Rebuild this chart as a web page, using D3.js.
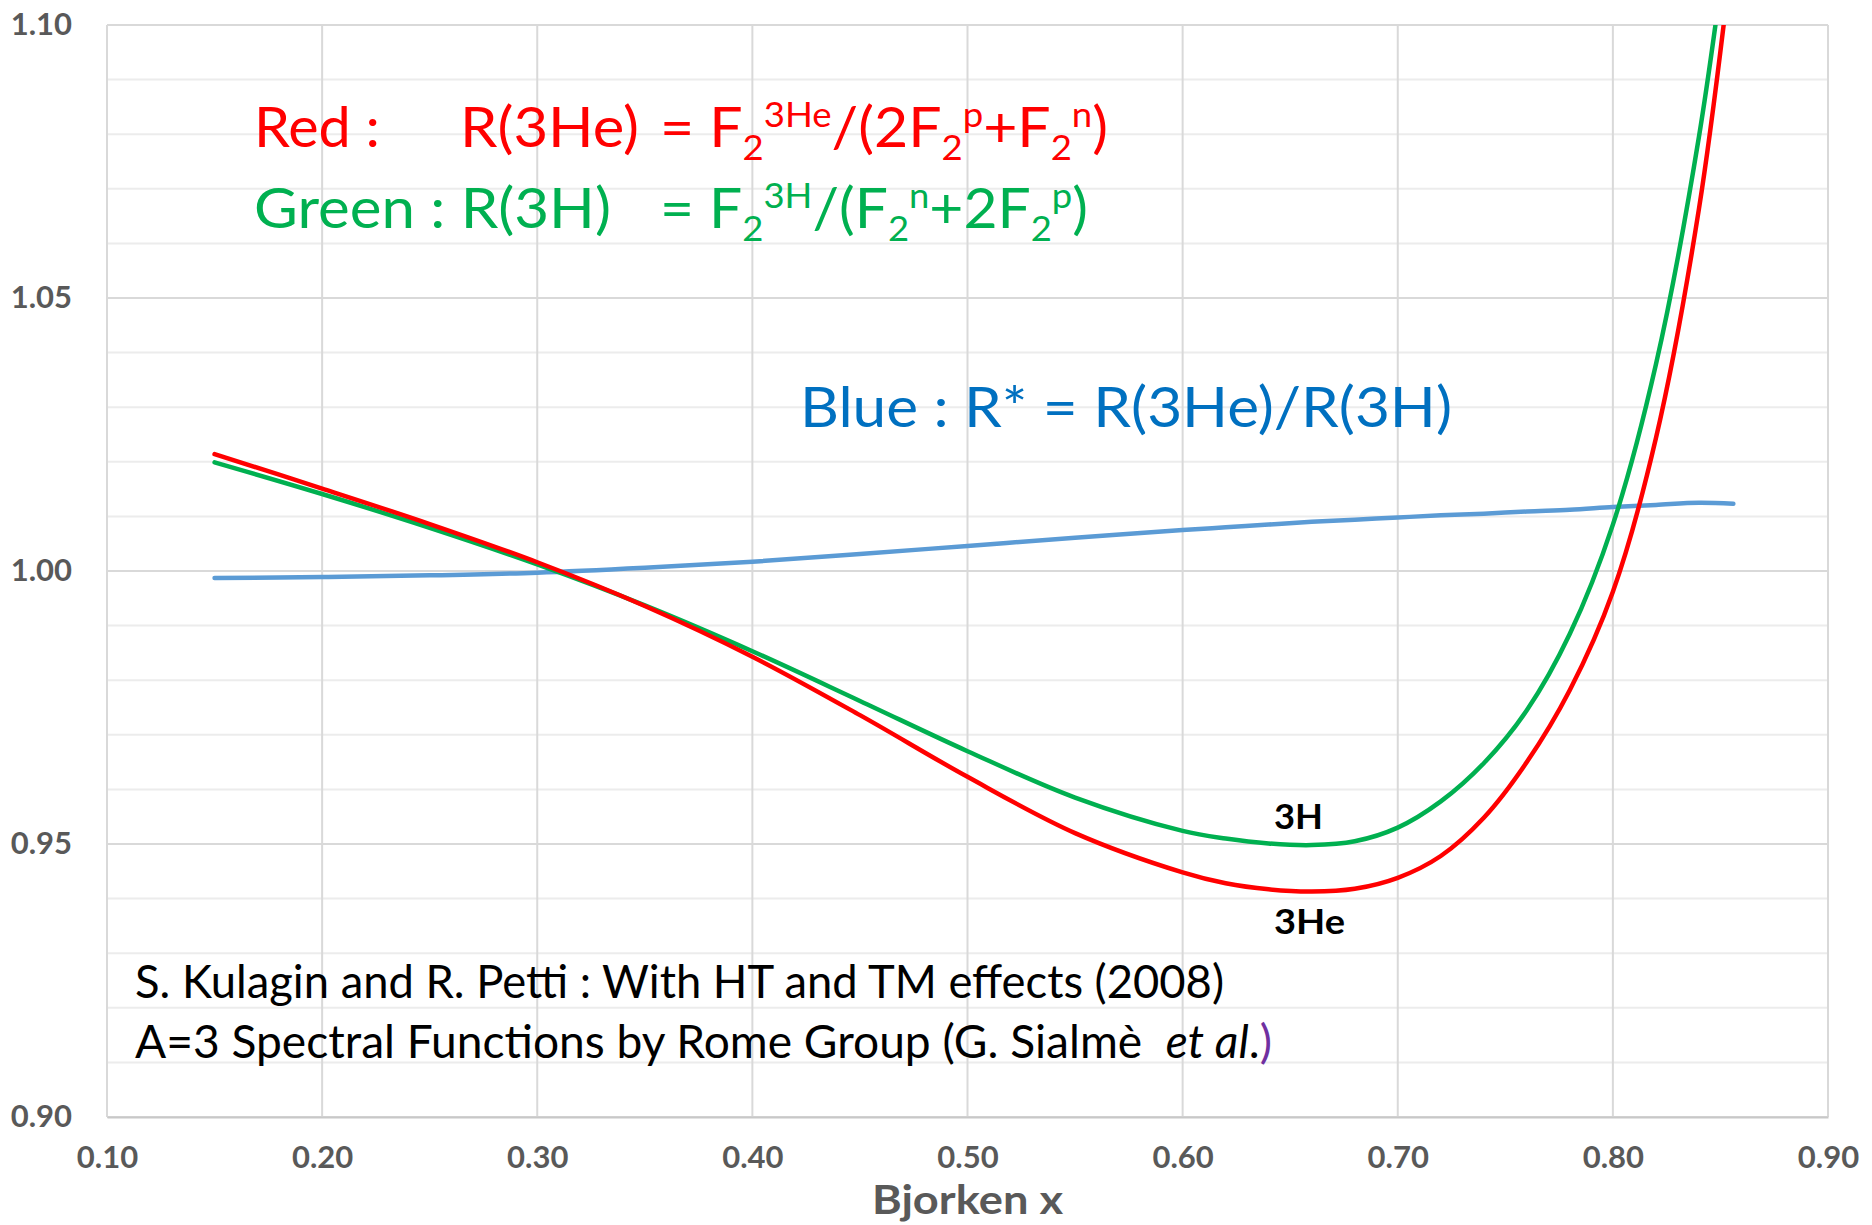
<!DOCTYPE html>
<html>
<head>
<meta charset="utf-8">
<script src="https://cdn.jsdelivr.net/npm/d3@7"></script>
<style>
  html, body { margin: 0; padding: 0; background: #fff; }
  svg text { font-family: Lato, "Open Sans", sans-serif; white-space: pre; }
</style>
</head>
<body>
<div id="chart"></div>
<script>
// Bjorken x sample points
const xValues = [0.15, 0.20, 0.25, 0.30, 0.35, 0.40, 0.45, 0.50, 0.55, 0.60,
                 0.62, 0.64, 0.66, 0.68, 0.70, 0.72, 0.74, 0.76, 0.78, 0.80, 0.82, 0.84, 0.856];

// R(3He) - red
const ratioHe3 = [1.0214, 1.0151, 1.0086, 1.0016, 0.9936, 0.9843, 0.9736, 0.9623, 0.9520, 0.9448,
                  0.9428, 0.9417, 0.9413, 0.9418, 0.9438, 0.9478, 0.9548, 0.9650, 0.9782, 0.9962, 1.0243, 1.0663, 1.1150];

// R(3H) - green
const ratioH3 = [1.0199, 1.0141, 1.0079, 1.0012, 0.9937, 0.9853, 0.9762, 0.9670, 0.9585, 0.9524,
                 0.9510, 0.9501, 0.9498, 0.9505, 0.9530, 0.9578, 0.9648, 0.9745, 0.9885, 1.0085, 1.0378, 1.0795, 1.1250];

// R* = R(3He)/R(3H) - blue
const ratioStar = [0.9987, 0.9989, 0.9992, 0.9997, 1.0006, 1.0017, 1.0031, 1.0046, 1.0061, 1.0075,
                   1.0080, 1.0085, 1.0090, 1.0094, 1.0098, 1.0102, 1.0105, 1.0109, 1.0112, 1.0117, 1.0121, 1.0125, 1.0123];

const xTicks = [0.10, 0.20, 0.30, 0.40, 0.50, 0.60, 0.70, 0.80, 0.90];
const yTicks = [0.90, 0.95, 1.00, 1.05, 1.10];
const yMinorTicks = d3.range(0, 21).map(i => +(0.90 + i * 0.01).toFixed(2));

const xTitle = "Bjorken x";
const footnote1 = "S. Kulagin and R. Petti : With HT and TM effects (2008)";

const width = 1872, height = 1225;
const plot = { left: 107, right: 1828, top: 25, bottom: 1117 };

const x = d3.scaleLinear().domain([0.1, 0.9]).range([plot.left, plot.right]);
const y = d3.scaleLinear().domain([0.9, 1.1]).range([plot.bottom, plot.top]);

const svg = d3.select("#chart").append("svg")
    .attr("width", width)
    .attr("height", height);

svg.append("rect").attr("width", width).attr("height", height).attr("fill", "#fff");

// clip for curves
svg.append("clipPath").attr("id", "plotClip")
    .append("rect")
    .attr("x", plot.left).attr("y", plot.top)
    .attr("width", plot.right - plot.left).attr("height", plot.bottom - plot.top);

// gridlines
const grid = svg.append("g");
grid.selectAll(".minor").data(yMinorTicks.filter(v => !yTicks.some(t => Math.abs(t - v) < 1e-6)))
    .enter().append("line")
    .attr("x1", plot.left).attr("x2", plot.right)
    .attr("y1", d => y(d)).attr("y2", d => y(d))
    .attr("stroke", "#ececec").attr("stroke-width", 2);

grid.selectAll(".major").data(yTicks)
    .enter().append("line")
    .attr("x1", plot.left).attr("x2", plot.right)
    .attr("y1", d => y(d)).attr("y2", d => y(d))
    .attr("stroke", "#d9d9d9").attr("stroke-width", 2);

grid.selectAll(".vert").data(xTicks)
    .enter().append("line")
    .attr("x1", d => x(d)).attr("x2", d => x(d))
    .attr("y1", plot.top).attr("y2", plot.bottom)
    .attr("stroke", "#d9d9d9").attr("stroke-width", 2);

// axes (labels only, Excel style)
const xAxis = svg.append("g")
    .attr("transform", `translate(0,${plot.bottom})`)
    .call(d3.axisBottom(x).tickValues(xTicks).tickFormat(d3.format(".2f")).tickSize(0).tickPadding(29));
xAxis.select(".domain").attr("stroke", "#c8c8c8").attr("stroke-width", 2);
xAxis.selectAll("text")
    .attr("font-size", 31).attr("font-weight", "bold").attr("fill", "#595959")
    .attr("font-family", "Lato, sans-serif");

const yAxis = svg.append("g")
    .attr("transform", `translate(${plot.left},0)`)
    .call(d3.axisLeft(y).tickValues(yTicks).tickFormat(d3.format(".2f")).tickSize(0).tickPadding(35));
yAxis.select(".domain").remove();
yAxis.selectAll("text")
    .attr("font-size", 31).attr("font-weight", "bold").attr("fill", "#595959")
    .attr("font-family", "Lato, sans-serif");

svg.append("text")
    .attr("x", (plot.left + plot.right) / 2).attr("y", 1214)
    .attr("text-anchor", "middle")
    .attr("font-size", 40).attr("font-weight", "bold").attr("fill", "#595959")
    .attr("textLength", 191).attr("lengthAdjust", "spacingAndGlyphs")
    .text(xTitle);

// curves
const series = [
    { values: ratioStar, color: "#5b9bd5" },
    { values: ratioH3, color: "#00b050" },
    { values: ratioHe3, color: "#ff0000" }
];

const line = d3.line()
    .x(d => x(d[0]))
    .y(d => y(d[1]))
    .curve(d3.curveCatmullRom.alpha(0.5));

svg.append("g").attr("clip-path", "url(#plotClip)")
    .selectAll("path").data(series)
    .enter().append("path")
    .attr("d", s => line(xValues.map((xv, i) => [xv, s.values[i]])))
    .attr("fill", "none")
    .attr("stroke", s => s.color)
    .attr("stroke-width", 4.5)
    .attr("stroke-linecap", "round")
    .attr("stroke-linejoin", "round");

// rich text helper: parts = [[text, kind, extra]]
function rich(px, py, parts, opts) {
    const t = svg.append("text")
        .attr("x", px).attr("y", py)
        .attr("font-size", opts.size)
        .attr("fill", opts.color);
    if (opts.weight) t.attr("font-weight", opts.weight);
    let shift = 0;
    parts.forEach(([str, kind, extra]) => {
        const ts = t.append("tspan").text(str);
        let target = 0, fs = null;
        if (kind === "sub") { target = opts.size * 0.24; fs = opts.size * 0.62; }
        if (kind === "sup") { target = -opts.size * 0.36; fs = opts.size * 0.62; }
        ts.attr("dy", target - shift);
        shift = target;
        if (fs) ts.attr("font-size", fs);
        if (extra && extra.italic) ts.attr("font-style", "italic");
        if (extra && extra.color) ts.attr("fill", extra.color);
    });
    if (opts.len) t.attr("textLength", opts.len).attr("lengthAdjust", "spacingAndGlyphs");
    return t;
}

const RED = "#ff0000", GREEN = "#00b050", BLUE = "#0070c0";
const big = 56;

rich(254, 147, [["Red :"]], { size: big, color: RED, len: 126 });
rich(460, 147, [["R(3He)"]], { size: big, color: RED, len: 179 });
rich(660, 147, [["= F"], ["2", "sub"], ["3He", "sup"], ["/(2F"], ["2", "sub"], ["p", "sup"], ["+F"], ["2", "sub"], ["n", "sup"], [")"]],
    { size: big, color: RED, len: 448 });

rich(254, 228, [["Green : R(3H)"]], { size: big, color: GREEN, len: 357 });
rich(660, 228, [["= F"], ["2", "sub"], ["3H", "sup"], ["/(F"], ["2", "sub"], ["n", "sup"], ["+2F"], ["2", "sub"], ["p", "sup"], [")"]],
    { size: big, color: GREEN, len: 428 });

rich(800, 427, [["Blue : R* = R(3He)/R(3H)"]], { size: big, color: BLUE, len: 652 });

rich(1274, 829, [["3H"]], { size: 34, color: "#000", weight: "bold", len: 49 });
rich(1274, 934, [["3He"]], { size: 34, color: "#000", weight: "bold", len: 71 });

rich(135, 998, [[footnote1]], { size: 46, color: "#000", len: 1089 });
rich(135, 1058, [["A=3 Spectral Functions by Rome Group (G. Sialmè  "], ["et al", "n", { italic: true }], [".", "n"], [")", "n", { color: "#7030a0" }]],
    { size: 46, color: "#000", len: 1137 });
</script>
</body>
</html>
